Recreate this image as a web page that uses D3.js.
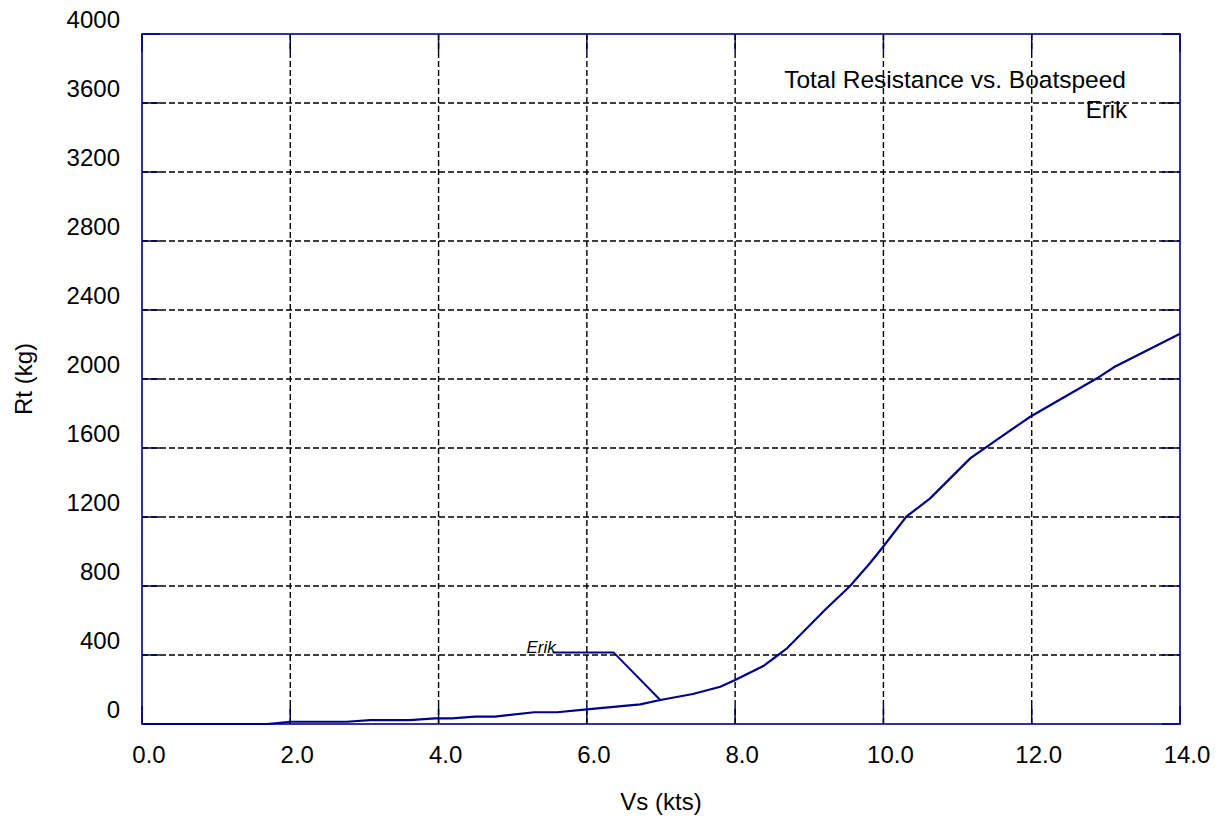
<!DOCTYPE html>
<html>
<head>
<meta charset="utf-8">
<script src="https://cdn.jsdelivr.net/npm/d3@7"></script>
<style>
  html, body { margin: 0; padding: 0; background: #fff; }
  svg { display: block; font-family: "Liberation Sans", Arial, sans-serif; }
</style>
</head>
<body>
<script>
// Resistance curve: boat speed (kts) and total resistance (kg)
const speed = [0, 1.69, 2.0, 2.76, 3.08, 3.61, 3.95, 4.18, 4.49, 4.76, 5.29, 5.60, 6.0,
  6.72, 6.99, 7.43, 7.80, 8.0, 8.38, 8.58, 8.70, 9.21, 9.55, 9.82, 9.98, 10.31, 10.63,
  10.90, 11.17, 11.62, 11.98, 12.88, 13.12, 14.0];
const resistance = [0, 0, 13, 13, 23, 23, 33, 33, 43, 43, 68, 68, 85,
  114, 139, 174, 216, 255, 336, 400, 439, 661, 800, 933, 1019, 1202, 1308,
  1424, 1540, 1675, 1781, 2004, 2071, 2262];

// Leader line for the series label
const labelSpeed = [5.54, 6.36, 6.99];
const labelRes = [415, 415, 139];
const seriesName = "Erik";

const xTicks = [0, 2, 4, 6, 8, 10, 12, 14];
const yTicks = [0, 400, 800, 1200, 1600, 2000, 2400, 2800, 3200, 3600, 4000];

const W = 1228, H = 820;
const m = { left: 142, top: 34, right: 48, bottom: 96 };
const iw = W - m.left - m.right, ih = H - m.top - m.bottom;
const navy = "#000088";

const svg = d3.select("body").append("svg").attr("width", W).attr("height", H);
const g = svg.append("g").attr("transform", `translate(${m.left},${m.top})`);

const x = d3.scaleLinear().domain([0, 14]).range([0, iw]);
const y = d3.scaleLinear().domain([0, 4000]).range([ih, 0]);

// inward tick marks on all four sides
const tickLen = 18;
const ticks = g.append("g").attr("stroke", navy).attr("stroke-width", 1.5);
yTicks.forEach(v => {
  ticks.append("line").attr("x1", 0).attr("x2", tickLen).attr("y1", y(v)).attr("y2", y(v));
  ticks.append("line").attr("x1", iw - tickLen).attr("x2", iw).attr("y1", y(v)).attr("y2", y(v));
});
xTicks.forEach(v => {
  ticks.append("line").attr("x1", x(v)).attr("x2", x(v)).attr("y1", ih - tickLen).attr("y2", ih);
  ticks.append("line").attr("x1", x(v)).attr("x2", x(v)).attr("y1", 0).attr("y2", tickLen);
});

// dashed grid
const grid = g.append("g").attr("stroke", "#000").attr("stroke-width", 1.4)
  .attr("stroke-dasharray", "6,3");
xTicks.slice(1, -1).forEach(v => {
  grid.append("line").attr("x1", x(v)).attr("x2", x(v)).attr("y1", 0).attr("y2", ih);
});
yTicks.slice(1, -1).forEach(v => {
  grid.append("line").attr("x1", 0).attr("x2", iw).attr("y1", y(v)).attr("y2", y(v));
});

// frame
g.append("rect").attr("x", 0).attr("y", 0).attr("width", iw).attr("height", ih)
  .attr("fill", "none").attr("stroke", navy).attr("stroke-width", 1.6);

// tick labels
const fs = 24;
g.append("g").selectAll("text").data(yTicks).join("text")
  .attr("x", -22).attr("y", d => y(d) - 6)
  .attr("text-anchor", "end")
  .attr("font-size", fs).attr("fill", "#000").text(d => d);
g.append("g").selectAll("text").data(xTicks).join("text")
  .attr("x", d => x(d) + 7).attr("y", ih + 39)
  .attr("text-anchor", "middle")
  .attr("font-size", fs).attr("fill", "#000").text(d => d.toFixed(1));

// axis titles
svg.append("text").attr("x", 661).attr("y", 810).attr("text-anchor", "middle")
  .attr("font-size", fs).text("Vs (kts)");
svg.append("text").attr("transform", "translate(32,379) rotate(-90)")
  .attr("text-anchor", "middle").attr("font-size", fs).text("Rt (kg)");

// chart title block
svg.append("text").attr("x", 1126).attr("y", 88).attr("text-anchor", "end")
  .attr("font-size", 24.5).text("Total Resistance vs. Boatspeed");
svg.append("text").attr("x", 1127).attr("y", 118).attr("text-anchor", "end")
  .attr("font-size", fs).text(seriesName);

// data line
const line = d3.line().x((d, i) => x(speed[i])).y((d, i) => y(resistance[i]));
g.append("path").attr("d", line(speed)).attr("fill", "none")
  .attr("stroke", navy).attr("stroke-width", 2.2);

// series label with leader
const lead = d3.line().x((d, i) => x(labelSpeed[i])).y((d, i) => y(labelRes[i]));
g.append("path").attr("d", lead(labelSpeed)).attr("fill", "none")
  .attr("stroke", navy).attr("stroke-width", 2);
g.append("text").attr("x", x(labelSpeed[0]) + 3).attr("y", y(labelRes[0]) + 1)
  .attr("text-anchor", "end").attr("font-size", 17).attr("font-style", "italic")
  .text(seriesName);
</script>
</body>
</html>
